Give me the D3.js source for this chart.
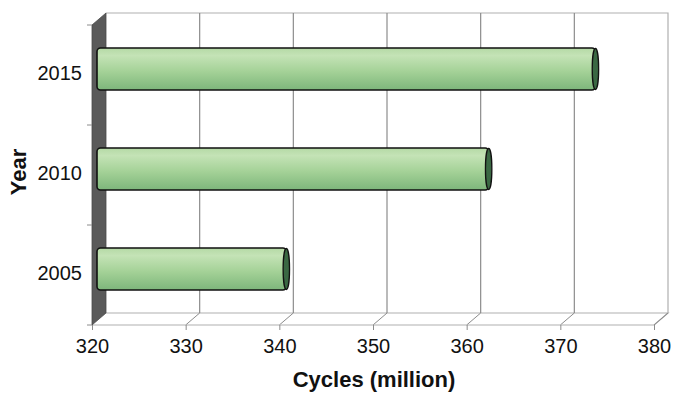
<!DOCTYPE html>
<html>
<head>
<meta charset="utf-8">
<script src="https://cdn.jsdelivr.net/npm/d3@7"></script>
<style>
  html, body { margin: 0; padding: 0; background: #fff; }
  svg { display: block; font-family: "Liberation Sans", Arial, sans-serif; }
</style>
</head>
<body>
<svg id="chart" width="673" height="394"></svg>
<script>
// Projected cycles per year (million)
const years = ["2015", "2010", "2005"];
const cycles = [373, 361.6, 340];
const xTicks = [320, 330, 340, 350, 360, 370, 380];
const xTitle = "Cycles (million)";
const yTitle = "Year";

(function () {
  const svg = d3.select("#chart");

  // Front plane of the 3D box and depth offset toward the back wall
  const pL = 92, pR = 654, pT = 25, pB = 325;
  const depth = { dx: 14, dy: -12 };

  const x = d3.scaleLinear().domain([320, 380]).range([pL, pR]);
  const y = d3.scaleBand().domain(years).range([pT, pB]);

  const gridColor = "#8c8c8c";
  const frameColor = "#b0b0b0";

  // Back wall frame
  svg.append("path")
    .attr("d", `M${pL + depth.dx},${pT + depth.dy} H${pR + depth.dx} V${pB + depth.dy}`)
    .attr("fill", "none").attr("stroke", frameColor).attr("stroke-width", 1.2);

  // Floor back edge and right diagonal
  svg.append("path")
    .attr("d", `M${pL + depth.dx},${pB + depth.dy} H${pR + depth.dx} L${pR},${pB}`)
    .attr("fill", "none").attr("stroke", frameColor).attr("stroke-width", 1.2);

  // Vertical gridlines on the back wall and their floor diagonals
  const inner = xTicks.filter(t => t > 320 && t < 380);
  svg.append("g").selectAll("path").data(inner).join("path")
    .attr("d", t => `M${x(t) + depth.dx},${pT + depth.dy} V${pB + depth.dy}`)
    .attr("stroke", gridColor).attr("stroke-width", 1.2).attr("fill", "none");
  svg.append("g").selectAll("path").data(xTicks.filter(t => t > 320)).join("path")
    .attr("d", t => `M${x(t)},${pB} L${x(t) + depth.dx},${pB + depth.dy}`)
    .attr("stroke", gridColor).attr("stroke-width", 1).attr("fill", "none");

  // Front floor edge
  svg.append("path")
    .attr("d", `M${pL},${pB} H${pR}`)
    .attr("stroke", frameColor).attr("stroke-width", 1.2);

  // Left side wall
  svg.append("path")
    .attr("d", `M${pL},${pT} L${pL + depth.dx},${pT + depth.dy} V${pB + depth.dy} L${pL},${pB} Z`)
    .attr("fill", "#5a5a5a").attr("stroke", "#4a4a4a").attr("stroke-width", 0.8);

  // Bar gradient
  const defs = svg.append("defs");
  const grad = defs.append("linearGradient").attr("id", "barFill")
    .attr("x1", 0).attr("y1", 0).attr("x2", 0).attr("y2", 1);
  [["0%", "#b4d9a5"], ["18%", "#c4e3b6"], ["55%", "#a5d298"], ["100%", "#7db67b"]]
    .forEach(([o, c]) => grad.append("stop").attr("offset", o).attr("stop-color", c));

  // Bars sit halfway into the depth of the box
  const midX = depth.dx / 2, midY = depth.dy / 2;
  const barH = y.bandwidth() * 0.42;
  const bars = years.map((yr, i) => ({ yr, v: cycles[i] }));

  const bg = svg.append("g");
  bg.selectAll("rect").data(bars).join("rect")
    .attr("x", x(320) + midX - 2)
    .attr("y", d => y(d.yr) + y.bandwidth() / 2 + midY - barH / 2)
    .attr("width", d => x(d.v) - x(320) + 2)
    .attr("height", barH)
    .attr("rx", 3.5)
    .attr("fill", "url(#barFill)")
    .attr("stroke", "#111").attr("stroke-width", 1.6);

  // End caps of the cylinders
  bg.selectAll("ellipse").data(bars).join("ellipse")
    .attr("cx", d => x(d.v) + midX)
    .attr("cy", d => y(d.yr) + y.bandwidth() / 2 + midY)
    .attr("rx", 3.2)
    .attr("ry", barH / 2 - 0.5)
    .attr("fill", "#3a6843")
    .attr("stroke", "#111").attr("stroke-width", 1.3);

  // X axis ticks and labels
  const xAxis = svg.append("g").attr("transform", `translate(0,${pB})`)
    .call(d3.axisBottom(x).tickValues(xTicks).tickSize(5).tickPadding(9).tickFormat(d3.format("d")));
  xAxis.select(".domain").remove();
  xAxis.selectAll(".tick line").attr("stroke", gridColor);
  xAxis.selectAll(".tick text").attr("font-size", 20).attr("fill", "#111")
    .attr("font-family", "'Liberation Sans', Arial, sans-serif");

  // Y axis ticks at band boundaries
  svg.append("g").selectAll("line").data([0, 1, 2, 3]).join("line")
    .attr("x1", pL - 5).attr("x2", pL)
    .attr("y1", i => pT + i * y.step()).attr("y2", i => pT + i * y.step())
    .attr("stroke", gridColor);

  // Year labels
  svg.append("g").selectAll("text").data(years).join("text")
    .attr("x", pL - 10)
    .attr("y", d => y(d) + y.bandwidth() / 2 - 2)
    .attr("text-anchor", "end").attr("dominant-baseline", "central")
    .attr("font-size", 20).attr("fill", "#111")
    .text(d => d);

  // Axis titles
  svg.append("text")
    .attr("x", 374).attr("y", 387)
    .attr("text-anchor", "middle")
    .attr("font-size", 22).attr("font-weight", "bold").attr("fill", "#111")
    .text(xTitle);

  svg.append("text")
    .attr("transform", "translate(26,172) rotate(-90)")
    .attr("text-anchor", "middle")
    .attr("font-size", 22).attr("font-weight", "bold").attr("fill", "#111")
    .text(yTitle);
})();
</script>
</body>
</html>
